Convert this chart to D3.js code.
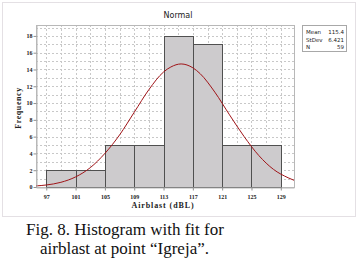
<!DOCTYPE html>
<html>
<head>
<meta charset="utf-8">
<script src="https://cdn.jsdelivr.net/npm/d3@7"></script>
<style>
  body { margin: 0; background: #fff; }
  svg { display: block; }
</style>
</head>
<body>
<div id="chart"></div>
<script>
// histogram bins (lower edge, upper edge, count)
const binStart = [97, 101, 105, 109, 113, 117, 121, 125]
const binEnd = [101, 105, 109, 113, 117, 121, 125, 129]
const counts = [2, 2, 5, 5, 18, 17, 5, 5]

// fitted normal curve
const fitX = [95.6, 97, 99, 101, 103, 105, 107, 109, 111, 113, 114, 115.4, 117, 118, 120, 122, 124, 126, 128, 130, 130.8]
const fitY = [0.13, 0.24, 0.56, 1.2, 2.3, 4.0, 6.2, 8.9, 11.6, 13.7, 14.3, 14.66, 14.2, 13.5, 11.3, 8.6, 6.0, 3.75, 2.1, 1.1, 0.8]

const xTicks = [97, 101, 105, 109, 113, 117, 121, 125, 129]
const yTicks = [0, 2, 4, 6, 8, 10, 12, 14, 16, 18]
const legendRows = [['Mean', '115.4'], ['StDev', '6.421'], ['N', '59']]

const width = 358
const height = 261
const plot = { left: 36, right: 294, top: 25, bottom: 187 }

const svg = d3.select('#chart').append('svg')
  .attr('width', width)
  .attr('height', height)

const x = d3.scaleLinear().domain([95.6, 130.8]).range([plot.left, plot.right])
const y = d3.scaleLinear().domain([0, 19.3]).range([plot.bottom, plot.top])

// outer dotted frame
svg.append('rect')
  .attr('x', 2.5).attr('y', 2.5)
  .attr('width', 353).attr('height', 214)
  .attr('fill', 'none')
  .attr('stroke', '#c8c0c8')
  .attr('stroke-dasharray', '1,1')

// grid
const grid = svg.append('g')
grid.selectAll('.hg')
  .data(d3.range(1, 20))
  .join('line')
  .attr('x1', plot.left).attr('x2', plot.right)
  .attr('y1', d => Math.round(y(d)) + 0.5)
  .attr('y2', d => Math.round(y(d)) + 0.5)
  .attr('stroke', '#c8c8c8')
  .attr('stroke-dasharray', '2,2')
grid.selectAll('.vg')
  .data(d3.range(97, 130, 2))
  .join('line')
  .attr('y1', plot.top).attr('y2', plot.bottom)
  .attr('x1', d => Math.round(x(d)) + 0.5)
  .attr('x2', d => Math.round(x(d)) + 0.5)
  .attr('stroke', '#c8c8c8')
  .attr('stroke-dasharray', '2,2')

// plot frame
svg.append('rect')
  .attr('x', plot.left + 0.5).attr('y', plot.top + 0.5)
  .attr('width', plot.right - plot.left).attr('height', plot.bottom - plot.top)
  .attr('fill', 'none')
  .attr('stroke', '#b8b8b8')

// bars
svg.append('g')
  .selectAll('rect')
  .data(counts)
  .join('rect')
  .attr('x', (d, i) => Math.round(x(binStart[i])) + 0.5)
  .attr('y', d => Math.round(y(d)) + 0.5)
  .attr('width', (d, i) => Math.round(x(binEnd[i])) - Math.round(x(binStart[i])))
  .attr('height', d => Math.round(y(0)) - Math.round(y(d)))
  .attr('fill', '#cdcbcd')
  .attr('stroke', '#505050')
  .attr('stroke-width', 1)

// fit line
const line = d3.line()
  .x((d, i) => x(fitX[i]))
  .y(d => y(d))
  .curve(d3.curveMonotoneX)
svg.append('path')
  .datum(fitY)
  .attr('d', line)
  .attr('fill', 'none')
  .attr('stroke', '#a01418')
  .attr('stroke-width', 1)

// axes
const xAxis = svg.append('g')
  .attr('transform', `translate(0,${plot.bottom + 0.5})`)
  .call(d3.axisBottom(x).tickValues(xTicks).tickSize(3).tickSizeOuter(0).tickFormat(d3.format('d')))
const yAxis = svg.append('g')
  .attr('transform', `translate(${plot.left + 0.5},0)`)
  .call(d3.axisLeft(y).tickValues(yTicks).tickSize(3).tickSizeOuter(0))

;[xAxis, yAxis].forEach(a => {
  a.select('.domain').attr('stroke', '#b8b8b8')
  a.selectAll('.tick line').attr('stroke', '#909090')
  a.selectAll('text')
    .attr('font-family', 'Liberation Serif')
    .attr('font-weight', 'bold')
    .attr('font-size', 6)
    .attr('fill', '#222')
})
xAxis.selectAll('text').attr('dy', '0.9em')
yAxis.selectAll('text').attr('x', -4)

// titles
svg.append('text')
  .attr('x', 178).attr('y', 18)
  .attr('text-anchor', 'middle')
  .attr('font-family', 'DejaVu Sans')
  .attr('font-size', 8)
  .attr('fill', '#222')
  .text('Normal')

svg.append('text')
  .attr('x', 163).attr('y', 208)
  .attr('text-anchor', 'middle')
  .attr('font-family', 'Liberation Serif')
  .attr('font-weight', 'bold')
  .attr('font-size', 8)
  .attr('letter-spacing', 0.9)
  .attr('fill', '#222')
  .text('Airblast (dBL)')

svg.append('text')
  .attr('transform', 'translate(21,108) rotate(-90)')
  .attr('text-anchor', 'middle')
  .attr('font-family', 'Liberation Serif')
  .attr('font-weight', 'bold')
  .attr('font-size', 8)
  .attr('letter-spacing', 0.6)
  .attr('fill', '#222')
  .text('Frequency')

// legend box
const legend = svg.append('g')
legend.append('rect')
  .attr('x', 302.5).attr('y', 25.5)
  .attr('width', 44).attr('height', 26)
  .attr('fill', '#fff')
  .attr('stroke', '#a8a8a8')
legendRows.forEach(([k, v], i) => {
  legend.append('text')
    .attr('x', 306).attr('y', 34 + i * 7.5)
    .attr('font-family', 'DejaVu Sans')
    .attr('font-size', 5.5)
    .attr('fill', '#222')
    .text(k)
  legend.append('text')
    .attr('x', 344).attr('y', 34 + i * 7.5)
    .attr('text-anchor', 'end')
    .attr('font-family', 'DejaVu Sans')
    .attr('font-size', 5.5)
    .attr('fill', '#222')
    .text(v)
})

// caption
const caption = svg.append('text')
  .attr('font-family', 'Liberation Serif')
  .attr('font-size', 17)
  .attr('fill', '#111')
caption.append('tspan').attr('x', 26).attr('y', 235).text('Fig. 8. Histogram with fit for')
caption.append('tspan').attr('x', 40).attr('y', 253.5).text('airblast at point \u201cIgreja\u201d.')
</script>
</body>
</html>
